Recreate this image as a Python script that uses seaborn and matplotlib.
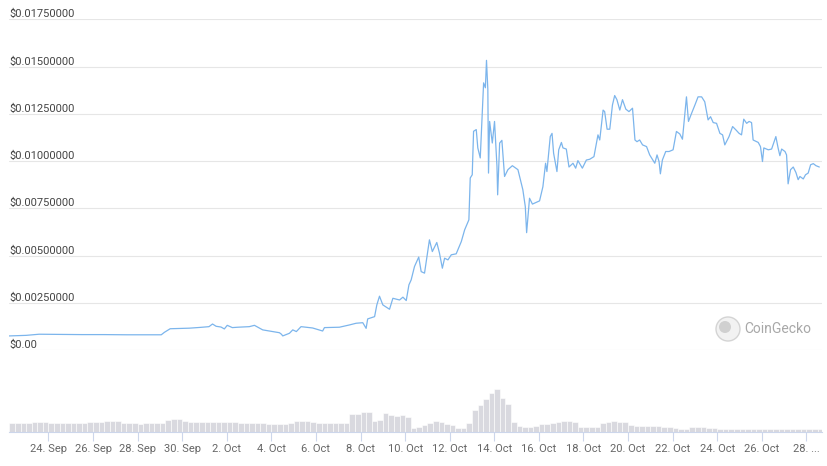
import matplotlib
matplotlib.use("Agg")
import matplotlib.pyplot as plt
from matplotlib.patches import Circle
import numpy as np
import pandas as pd
import seaborn as sns

# price: days since 24 Sep 00:00 and USD price
price_days = [-1.76, -1.0, -0.42, 0.5, 1.5, 2.5, 3.5, 4.5, 5.06, 5.2, 5.46, 6.32, 6.8, 7.2,
              7.36, 7.52, 7.74, 7.89, 8.02, 8.25, 8.49, 9.01, 9.24, 9.61, 10.06, 10.36, 10.45,
              10.51, 10.81, 10.96, 11.12, 11.33, 11.85, 12.3, 12.38, 13.05, 13.5, 13.8, 14.1,
              14.25, 14.32, 14.63, 14.73, 14.85, 15.0, 15.3, 15.45, 15.75, 15.9, 16.05, 16.17,
              16.27, 16.42, 16.61, 16.72, 16.87, 17.09, 17.22, 17.42, 17.54, 17.67, 17.77,
              17.92, 18.07, 18.29, 18.52, 18.67, 18.86, 18.92, 19.01, 19.07, 19.19, 19.26,
              19.37, 19.52, 19.6, 19.65, 19.71, 19.74, 19.79, 19.91, 20.01, 20.12, 20.15,
              20.24, 20.34, 20.46, 20.61, 20.81, 21.06, 21.28, 21.39, 21.45, 21.58, 21.71,
              22.03, 22.18, 22.3, 22.36, 22.51, 22.59, 22.66, 22.81, 22.89, 23.01, 23.08,
              23.23, 23.35, 23.53, 23.65, 23.75, 23.95, 24.13, 24.28, 24.47, 24.65, 24.73,
              24.88, 24.95, 25.06, 25.18, 25.3, 25.4, 25.5, 25.63, 25.75, 25.9, 26.04, 26.2,
              26.31, 26.4, 26.52, 26.65, 26.83, 26.97, 27.2, 27.3, 27.39, 27.45, 27.54, 27.69,
              27.84, 28.02, 28.17, 28.32, 28.44, 28.62, 28.71, 28.85, 29.0, 29.14, 29.3, 29.44,
              29.59, 29.7, 29.82, 29.97, 30.12, 30.24, 30.34, 30.53, 30.69, 30.84, 30.98,
              31.09, 31.19, 31.32, 31.43, 31.54, 31.61, 31.84, 31.94, 32.03, 32.09, 32.29,
              32.44, 32.63, 32.73, 32.81, 32.89, 33.04, 33.11, 33.18, 33.29, 33.41, 33.53,
              33.63, 33.71, 33.86, 33.96, 34.08, 34.19, 34.31, 34.43, 34.58]
price_usd = [0.00076, 0.00079, 0.00085, 0.00084, 0.00083, 0.00083, 0.00082, 0.00082, 0.00082,
             0.00095, 0.00114, 0.00117, 0.00121, 0.00125, 0.00139, 0.00127, 0.00123, 0.00113,
             0.00132, 0.0012, 0.00122, 0.00125, 0.00132, 0.00108, 0.00099, 0.00093, 0.00085,
             0.00076, 0.0009, 0.00108, 0.00099, 0.00125, 0.00118, 0.00102, 0.0012, 0.00122,
             0.00134, 0.00143, 0.00146, 0.00116, 0.00166, 0.00178, 0.0024, 0.00286, 0.0024,
             0.00217, 0.00275, 0.00266, 0.00281, 0.00263, 0.00346, 0.00372, 0.00443, 0.00493,
             0.00416, 0.00408, 0.00584, 0.00522, 0.0057, 0.00514, 0.00434, 0.00487, 0.00478,
             0.00505, 0.0051, 0.00575, 0.00637, 0.0069, 0.00911, 0.00928, 0.01158, 0.01167,
             0.0107, 0.01017, 0.01414, 0.01388, 0.01533, 0.01379, 0.00937, 0.0121, 0.01096,
             0.0121, 0.00972, 0.00822, 0.01096, 0.0111, 0.00919, 0.00955, 0.00976, 0.00955,
             0.00849, 0.0076, 0.00622, 0.00804, 0.00773, 0.0079, 0.00865, 0.00989, 0.00945,
             0.0113, 0.01147, 0.01042, 0.00945, 0.0106, 0.01099, 0.0107, 0.01064, 0.00969,
             0.00989, 0.00963, 0.01003, 0.00963, 0.01006, 0.0101, 0.01024, 0.01139, 0.01112,
             0.0127, 0.01262, 0.01169, 0.01169, 0.01297, 0.01347, 0.01325, 0.0127, 0.01325,
             0.01275, 0.01262, 0.0128, 0.01112, 0.01103, 0.01112, 0.01086, 0.01077, 0.01033,
             0.00989, 0.01033, 0.00998, 0.00933, 0.01006, 0.01051, 0.01051, 0.0106, 0.01157,
             0.01144, 0.01116, 0.0134, 0.0121, 0.01253, 0.01297, 0.0134, 0.0134, 0.01314,
             0.01218, 0.01235, 0.01204, 0.012, 0.01147, 0.01139, 0.01086, 0.0113, 0.01183,
             0.01165, 0.01147, 0.01139, 0.01222, 0.012, 0.0121, 0.01204, 0.01112, 0.01099,
             0.01077, 0.00998, 0.0107, 0.0106, 0.01064, 0.0113, 0.0107, 0.01029, 0.01064,
             0.01051, 0.01033, 0.0088, 0.00955, 0.00969, 0.0094, 0.00902, 0.00919, 0.00906,
             0.00928, 0.00937, 0.00981, 0.00987, 0.00976, 0.00969]

# 6-hourly volume (relative units), starting 22 Sep 06:00
volume = [9.7, 9.7, 9.5, 9.8, 10.3, 10.3, 10.3, 9.8,
          9.7, 9.6, 9.8, 9.7, 9.5, 9.7, 9.9, 10.0, 10.5,
          11.3, 11.3, 11.0,
          9.5, 9.0, 9.0, 8.8, 9.0, 9.2, 9.0, 9.5,
          12.5, 13.8, 13.0,
          11.0, 10.7, 10.7, 10.5, 10.7,
          10.3, 10.5, 10.3, 10.2, 10.3,
          9.5, 9.3, 9.3, 9.5, 9.0,
          8.3, 8.0, 8.3, 8.5, 9.0,
          11.0, 11.3, 11.0, 10.5,
          9.5, 9.3, 9.3, 9.5, 9.3, 9.3,
          18.0, 18.0, 20.0, 20.5, 11.0, 12.0,
          19.0, 17.0, 16.0, 17.0, 15.0, 4.7, 5.5, 7.5,
          9.0, 11.0, 10.5, 8.0, 7.7, 4.5, 4.0,
          9.0, 22.0, 27.0, 33.0, 39.0, 43.0, 34.0, 28.0,
          10.0, 6.0, 5.5, 5.7, 6.5, 8.3, 8.5, 9.5,
          10.0, 11.3, 11.5, 10.5, 5.0, 5.0, 5.2, 5.5,
          9.0, 10.5, 11.0, 10.7, 10.0, 7.0, 6.7, 6.5,
          6.7, 6.5, 6.0, 5.8, 5.5, 4.0, 3.7, 3.8,
          5.0, 5.2, 5.0, 4.8, 4.5, 3.2, 3.0, 3.0,
          3.0, 3.2, 3.5, 3.7, 3.8, 3.7, 3.8, 3.7,
          3.8, 3.7, 3.6, 3.8, 3.7, 3.7, 3.8, 3.6]

y_ticks = [0, 0.0025, 0.005, 0.0075, 0.01, 0.0125, 0.015, 0.0175]
y_labels = ["$0.00", "$0.00250000", "$0.00500000", "$0.00750000",
            "$0.01000000", "$0.01250000", "$0.01500000", "$0.01750000"]
x_tick_dates = ["2021-09-24", "2021-09-26", "2021-09-28", "2021-09-30", "2021-10-02",
                "2021-10-04", "2021-10-06", "2021-10-08", "2021-10-10", "2021-10-12",
                "2021-10-14", "2021-10-16", "2021-10-18", "2021-10-20", "2021-10-22",
                "2021-10-24", "2021-10-26", "2021-10-28"]
x_labels = ["24. Sep", "26. Sep", "28. Sep", "30. Sep", "2. Oct", "4. Oct", "6. Oct",
            "8. Oct", "10. Oct", "12. Oct", "14. Oct", "16. Oct", "18. Oct", "20. Oct",
            "22. Oct", "24. Oct", "26. Oct", "28. ..."]

LINE = "#7cb5ec"
GRID = "#e6e6e6"
AXIS = "#ccd6eb"

sns.set_theme(style="white")
plt.rcParams["font.family"] = ["Roboto", "DejaVu Sans"]

base = pd.Timestamp("2021-09-24")
price_df = pd.DataFrame({"time": base + pd.to_timedelta(price_days, unit="D"),
                         "price": price_usd})
vol_times = pd.date_range("2021-09-22 06:00", periods=len(volume), freq="6h")
x_min = base + pd.to_timedelta(-1.77, unit="D")
x_max = base + pd.to_timedelta(34.7, unit="D")

W, H = 827, 466
fig = plt.figure(figsize=(W / 100, H / 100), dpi=100)
left, right = 9, 822
ax = fig.add_axes([left / W, (H - 350.3) / H, (right - left) / W, (350.3 - 19.3) / H])
ax_vol = fig.add_axes([left / W, (H - 432.3) / H, (right - left) / W, (432.3 - 350.3) / H],
                      sharex=ax)

# price panel
sns.lineplot(data=price_df, x="time", y="price", ax=ax, color=LINE, linewidth=0.9)
ax.set_ylim(0, 0.0175)
ax.set_xlim(x_min, x_max)
ax.set_yticks(y_ticks)
ax.set_yticklabels(y_labels)
for lbl in ax.get_yticklabels():
    lbl.set_horizontalalignment("left")
    lbl.set_verticalalignment("bottom")
ax.tick_params(axis="y", length=0, pad=0, labelsize=8, labelcolor="#444444")
ax.tick_params(axis="x", length=0, labelbottom=False)
ax.yaxis.grid(True, color=GRID, linewidth=0.8)
ax.set_axisbelow(True)
for s in ax.spines.values():
    s.set_visible(False)
ax.set_xlabel("")
ax.set_ylabel("")
ax.patch.set_alpha(0)

# volume panel
ax_vol.bar(vol_times, volume, width=0.25, color="#d9d9df", edgecolor="white",
           linewidth=0.4, align="edge")
ax_vol.set_ylim(0, 82)
ax_vol.set_yticks([])
for s in ["top", "left", "right"]:
    ax_vol.spines[s].set_visible(False)
ax_vol.spines["bottom"].set_color(AXIS)
ax_vol.spines["bottom"].set_linewidth(0.8)
ax_vol.set_xticks(pd.to_datetime(x_tick_dates))
ax_vol.set_xticklabels(x_labels)
ax_vol.tick_params(axis="x", length=6.7, width=0.8, color=AXIS, pad=1.5,
                   labelsize=8, labelcolor="#666666", bottom=True)
ax_vol.set_xlim(x_min, x_max)
ax_vol.patch.set_alpha(0)

# watermark
fig.add_artist(Circle((728 / 100, (H - 329) / 100), 0.12, transform=fig.dpi_scale_trans,
                      facecolor="#f2f2f2", edgecolor="#d4d4d4", linewidth=1))
fig.add_artist(Circle((725 / 100, (H - 327) / 100), 0.06, transform=fig.dpi_scale_trans,
                      facecolor="#d0d0d0", edgecolor="none"))
fig.text(744 / W, (H - 329) / H, "CoinGecko", fontsize=10, color="#a8a8a8",
         ha="left", va="center")

fig.savefig("out.png", dpi=100)
